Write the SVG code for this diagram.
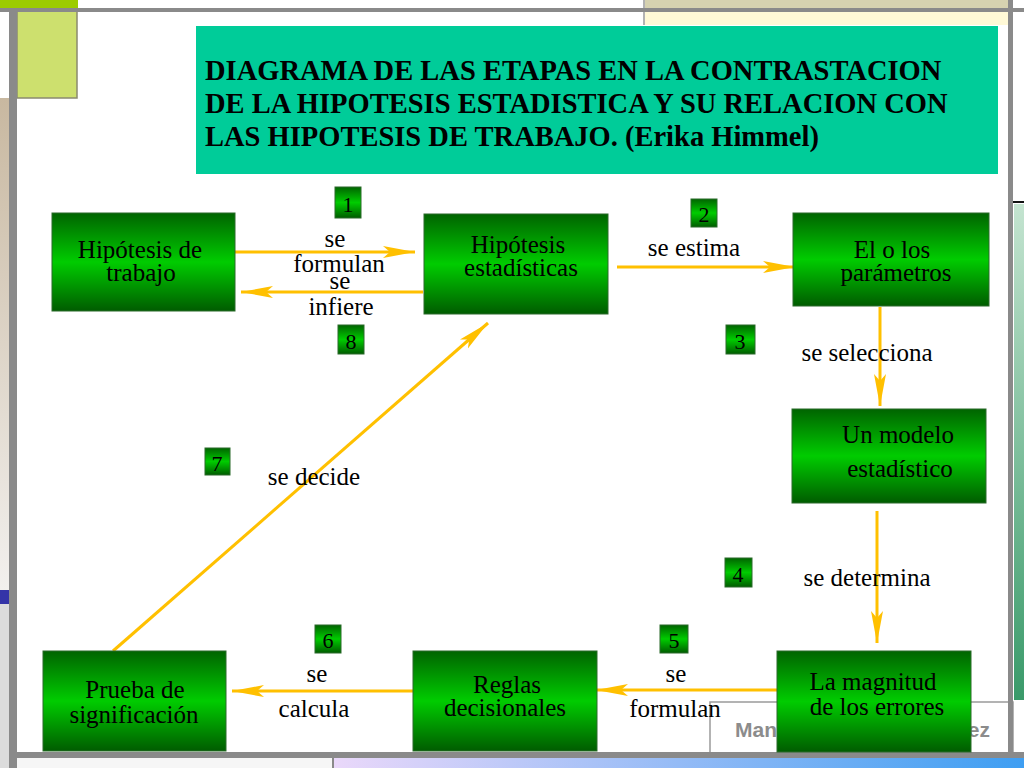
<svg xmlns="http://www.w3.org/2000/svg" width="1024" height="768" viewBox="0 0 1024 768">
<defs>
<linearGradient id="g" x1="0" y1="0" x2="0" y2="1">
<stop offset="0" stop-color="#006400"/>
<stop offset="0.5" stop-color="#00cc00"/>
<stop offset="1" stop-color="#005c00"/>
</linearGradient>
<linearGradient id="beige" x1="0" y1="0" x2="0" y2="1">
<stop offset="0" stop-color="#c8b8a0"/>
<stop offset="1" stop-color="#f2f0ee"/>
</linearGradient>
<linearGradient id="rgreen" x1="0" y1="0" x2="0" y2="1">
<stop offset="0" stop-color="#c4e4d0"/>
<stop offset="1" stop-color="#3a9a6a"/>
</linearGradient>
<linearGradient id="blue" x1="0" y1="0" x2="1" y2="0">
<stop offset="0" stop-color="#ead8fa"/>
<stop offset="1" stop-color="#3e9ef2"/>
</linearGradient>
<marker id="ah" markerUnits="userSpaceOnUse" markerWidth="34" markerHeight="14" refX="32" refY="6" orient="auto">
<path d="M0,0 L32,6 L0,12 L7,6 z" fill="#ffc000"/>
</marker>
<style>
.node rect{fill:url(#g);stroke:#2a6a2a;stroke-width:1}
.t{font-family:"Liberation Serif","Times New Roman",serif;font-size:25px;fill:#000;text-anchor:middle}
.lbl{font-family:"Liberation Serif","Times New Roman",serif;font-size:25px;fill:#000;text-anchor:middle}
.num rect{fill:url(#g);stroke:#2a6a2a;stroke-width:1}
.num text{font-family:"Liberation Serif","Times New Roman",serif;font-size:22px;fill:#000;text-anchor:middle}
.c{stroke:#ffc000;stroke-width:3;fill:none;marker-end:url(#ah)}
.title{font-family:"Liberation Serif","Times New Roman",serif;font-size:28.5px;font-weight:bold;fill:#000}
</style>
</defs>
<!-- background template -->
<rect x="0" y="0" width="1024" height="768" fill="#ffffff"/>
<rect x="0" y="0" width="78" height="8" fill="#9ccc00"/>
<rect x="17" y="11" width="60" height="87" fill="#cde06e" stroke="#8a8a70" stroke-width="1.5"/>
<rect x="0" y="98" width="9" height="492" fill="url(#beige)"/>
<rect x="0" y="590" width="9" height="14" fill="#3434a8"/>
<rect x="0" y="604" width="9" height="164" fill="#dcdcdc"/>
<rect x="645" y="0" width="363" height="8" fill="#d6d2b0"/>
<rect x="645" y="11" width="363" height="14" fill="#fff9d6"/>
<line x1="644" y1="0" x2="644" y2="25" stroke="#9a9a9a" stroke-width="1.5"/>
<rect x="0" y="8" width="1024" height="4" fill="#8a8a8a"/>
<rect x="1014" y="204" width="10" height="496" fill="url(#rgreen)"/>
<line x1="1010" y1="202" x2="1024" y2="202" stroke="#111" stroke-width="2"/>
<rect x="710" y="702" width="303" height="52" fill="#ffffff" stroke="#9a9a9a" stroke-width="1.5"/>
<text x="735" y="737" font-family="Liberation Sans,Arial,sans-serif" font-size="21" font-weight="bold" fill="#8c8c8c">Man</text>
<text x="990" y="737" font-family="Liberation Sans,Arial,sans-serif" font-size="21" font-weight="bold" fill="#8c8c8c" text-anchor="end">ez</text>
<rect x="1008" y="0" width="5" height="768" fill="#8a8a8a"/>
<rect x="9" y="8" width="8" height="760" fill="#8a8a8a"/>
<rect x="17" y="758" width="316" height="10" fill="#f6f6f6"/>
<rect x="333" y="758" width="691" height="10" fill="url(#blue)"/>
<rect x="13" y="752" width="1011" height="6" fill="#8a8a8a"/>
<line x1="333" y1="758" x2="333" y2="768" stroke="#8a8a8a" stroke-width="2"/>

<!-- title -->
<g id="title">
<rect x="196" y="26" width="802" height="148" fill="#00cc99"/>
<text class="title" x="205" y="80">DIAGRAMA DE LAS ETAPAS EN LA CONTRASTACION</text>
<text class="title" x="205" y="113">DE LA HIPOTESIS ESTADISTICA Y SU RELACION CON</text>
<text class="title" x="205" y="146">LAS HIPOTESIS DE TRABAJO. (Erika Himmel)</text>
</g>

<!-- connectors -->
<g id="connectors">
<line class="c" x1="234" y1="252" x2="415" y2="252"/>
<line class="c" x1="423" y1="292" x2="241" y2="292"/>
<line class="c" x1="617" y1="267" x2="795" y2="267"/>
<line class="c" x1="880" y1="307" x2="880" y2="406"/>
<line class="c" x1="877" y1="511" x2="877" y2="643"/>
<line class="c" x1="777" y1="690" x2="596" y2="690"/>
<line class="c" x1="413" y1="691" x2="232" y2="691"/>
<line class="c" x1="113" y1="651" x2="488" y2="323"/>
</g>

<!-- connector labels -->
<g id="labels">
<text class="lbl" x="335" y="247">se</text>
<text class="lbl" x="339" y="272">formulan</text>
<text class="lbl" x="340" y="289">se</text>
<text class="lbl" x="341" y="315">infiere</text>
<text class="lbl" x="694" y="256">se estima</text>
<text class="lbl" x="867" y="361">se selecciona</text>
<text class="lbl" x="314" y="485">se decide</text>
<text class="lbl" x="867" y="586">se determina</text>
<text class="lbl" x="317" y="682">se</text>
<text class="lbl" x="314" y="717">calcula</text>
<text class="lbl" x="676" y="682">se</text>
<text class="lbl" x="675" y="717">formulan</text>
</g>

<!-- number boxes -->
<g id="n1" class="num"><rect x="335" y="187" width="26" height="31"/><text x="348" y="212">1</text></g>
<g id="n2" class="num"><rect x="691" y="199" width="26" height="28"/><text x="704" y="222">2</text></g>
<g id="n3" class="num"><rect x="726" y="325" width="29" height="29"/><text x="740" y="349">3</text></g>
<g id="n4" class="num"><rect x="725" y="558" width="27" height="29"/><text x="738" y="582">4</text></g>
<g id="n5" class="num"><rect x="660" y="625" width="28" height="28"/><text x="674" y="648">5</text></g>
<g id="n6" class="num"><rect x="315" y="625" width="26" height="28"/><text x="328" y="648">6</text></g>
<g id="n7" class="num"><rect x="205" y="448" width="25" height="27"/><text x="217" y="471">7</text></g>
<g id="n8" class="num"><rect x="338" y="325" width="26" height="29"/><text x="351" y="349">8</text></g>

<!-- nodes -->
<g id="hipotesis-trabajo" class="node">
<rect x="52" y="213" width="183" height="98"/>
<text class="t" x="140" y="258">Hipótesis de</text>
<text class="t" x="141" y="281">trabajo</text>
</g>
<g id="hipotesis-estadisticas" class="node">
<rect x="424" y="214" width="184" height="100"/>
<text class="t" x="518" y="253">Hipótesis</text>
<text class="t" x="521" y="276">estadísticas</text>
</g>
<g id="parametros" class="node">
<rect x="793" y="213" width="196" height="93"/>
<text class="t" x="892" y="258">El o los</text>
<text class="t" x="896" y="281">parámetros</text>
</g>
<g id="modelo" class="node">
<rect x="792" y="409" width="194" height="94"/>
<text class="t" x="898" y="443">Un modelo</text>
<text class="t" x="900" y="477">estadístico</text>
</g>
<g id="magnitud" class="node">
<rect x="777" y="651" width="194" height="101"/>
<text class="t" x="873" y="690">La magnitud</text>
<text class="t" x="877" y="715">de los errores</text>
</g>
<g id="reglas" class="node">
<rect x="413" y="651" width="184" height="100"/>
<text class="t" x="507" y="693">Reglas</text>
<text class="t" x="505" y="716">decisionales</text>
</g>
<g id="prueba" class="node">
<rect x="43" y="651" width="183" height="100"/>
<text class="t" x="135" y="698">Prueba de</text>
<text class="t" x="134" y="723">significación</text>
</g>
</svg>
